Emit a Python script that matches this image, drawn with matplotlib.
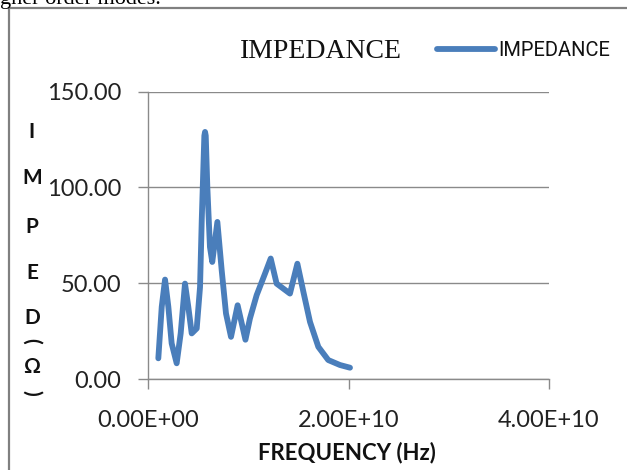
import matplotlib
matplotlib.use("Agg")
import matplotlib.pyplot as plt
from matplotlib.lines import Line2D
from matplotlib.ticker import FuncFormatter, FixedLocator

# ---- data ----
freq_ghz = [1.03, 1.37, 1.70, 2.03, 2.36, 2.86, 3.26, 3.69, 4.02, 4.36, 4.86,
            5.19, 5.36, 5.62, 5.69, 5.76, 5.92, 6.18, 6.41, 6.92, 7.35, 7.78,
            8.28, 8.94, 9.72, 10.17, 10.84, 11.67, 12.24, 12.83, 14.16, 14.9,
            15.5, 16.16, 16.99, 17.98, 19.15, 20.15]
impedance = [10.8, 37.7, 51.9, 37.7, 18.6, 8.2, 23.8, 49.8, 37.7, 23.8, 26.4,
             48.0, 82.8, 127.0, 129.0, 127.0, 100.0, 68.9, 61.1, 82.0, 56.8, 34.2,
             22.0, 38.5, 20.5, 31.6, 43.8, 55.0, 62.9, 49.8, 44.6, 60.2,
             45.5, 29.8, 16.8, 9.9, 7.3, 5.9]
freq_hz = [f * 1e9 for f in freq_ghz]

x_ticks = [0.0, 2.0e10, 4.0e10]
y_ticks = [0.0, 50.0, 100.0, 150.0]
title_text = "IMPEDANCE"
series_name = "IMPEDANCE"
x_label = "FREQUENCY (Hz)"
y_label_chars = ["I", "M", "P", "E", "D", "(", "\u03a9", ")"]
y_label_rot = [0, 0, 0, 0, 0, -90, 0, -90]

W, H = 627, 470
fig = plt.figure(figsize=(W / 100, H / 100), dpi=100)
fig.patch.set_facecolor("white")

def fx(px):
    return px / W

def fy(py):
    return 1 - py / H

# cropped caption at the top of the page
fig.text(fx(0), fy(4), "gher order modes.", family="Liberation Serif",
         fontsize=16, ha="left", va="baseline", color="black")

# chart border (top and left visible)
fig.add_artist(Line2D([fx(9), fx(W + 5)], [fy(8), fy(8)], color="#808080", lw=1.6))
fig.add_artist(Line2D([fx(9), fx(9)], [fy(8), fy(H + 5)], color="#808080", lw=1.6))

ax = fig.add_axes([fx(148), fy(379), fx(549) - fx(148), fy(91.7) - fy(379)])
grid_c = "#8a8a8a"
line_c = "#4a7ebb"

ax.plot(freq_hz, impedance, color=line_c, lw=4.2, solid_joinstyle="round",
        solid_capstyle="round", label=series_name, clip_on=False, zorder=3)

ax.set_xlim(0, 4.0e10)
ax.set_ylim(0, 150)
ax.xaxis.set_major_locator(FixedLocator(x_ticks))
ax.yaxis.set_major_locator(FixedLocator(y_ticks))
ax.xaxis.set_major_formatter(FuncFormatter(lambda v, p: f"{v:.2E}"))
ax.yaxis.set_major_formatter(FuncFormatter(lambda v, p: f"{v:.2f}"))

for s in ["top", "right"]:
    ax.spines[s].set_visible(False)
for s in ["left", "bottom"]:
    ax.spines[s].set_color(grid_c)
    ax.spines[s].set_linewidth(1.0)

ax.grid(axis="y", color=grid_c, lw=1.0, zorder=0)
ax.set_axisbelow(True)

ax.tick_params(axis="both", direction="out", length=7, width=1.0, color=grid_c,
               labelsize=17, labelcolor="#222222")
ax.tick_params(axis="y", pad=12)
ax.tick_params(axis="x", pad=15)
for lab in ax.get_xticklabels() + ax.get_yticklabels():
    lab.set_family(["Lato", "DejaVu Sans"])

# x label
fig.text(fx(347), fy(453), x_label, family=["Lato", "DejaVu Sans"], fontweight="bold",
         fontsize=16, ha="center", va="center", color="#111111")

# stacked y label
y_positions = [132, 178, 227, 273, 318, 341, 367, 393]
for ch, yp, rot in zip(y_label_chars, y_positions, y_label_rot):
    fig.text(fx(32), fy(yp), ch, family=["Lato", "DejaVu Sans"], rotation=rot,
             fontweight="bold", fontsize=15, ha="center", va="center", color="#111111")

# title
fig.text(fx(321), fy(52), title_text, family="Liberation Serif", fontsize=20,
         ha="center", va="center", color="#111111")

# legend
leg = ax.legend(loc="center left", bbox_to_anchor=(fx(437), fy(51)),
                bbox_transform=fig.transFigure, frameon=False,
                prop={"family": ["Roboto", "DejaVu Sans"], "size": 14.5},
                handlelength=2.9, handletextpad=0.15, borderpad=0, borderaxespad=0)
for t in leg.get_texts():
    t.set_color("#111111")

fig.savefig("out.png", dpi=100, facecolor="white")
